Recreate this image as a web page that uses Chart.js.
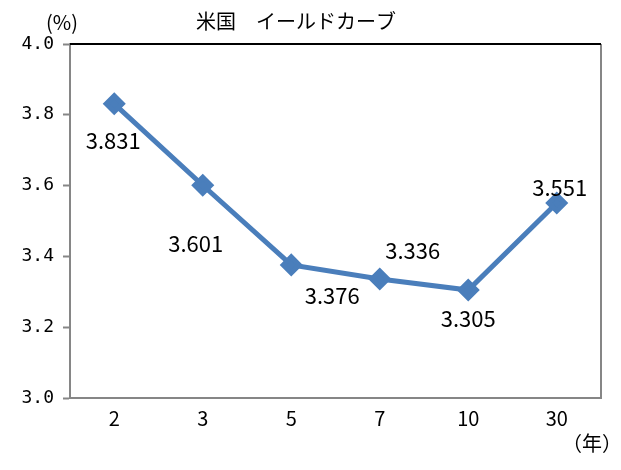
<!DOCTYPE html>
<html>
<head>
<meta charset="utf-8">
<script src="https://cdn.jsdelivr.net/npm/chart.js@4"></script>
<style>
  html, body { margin: 0; padding: 0; background: #fff; }
  #wrap { width: 621px; height: 470px; }
</style>
</head>
<body>
<div id="wrap"><canvas id="myChart" width="621" height="470"></canvas></div>
<script>
// 年限と利回り
labels = ["2", "3", "5", "7", "10", "30"];
yields = [3.831, 3.601, 3.376, 3.336, 3.305, 3.551];
yTicks = [3.0, 3.2, 3.4, 3.6, 3.8, 4.0];

var jpFont = '"Noto Sans CJK JP", sans-serif';

// 値ラベルの位置ずらし (点からの dx, dy)
var labelShift = [[-1, 37], [-7, 58], [41, 31], [33, -28], [0, 29], [3, -15]];

var extras = {
    id: 'extras',
    afterDatasetsDraw: function (chart) {
        var ctx = chart.ctx;
        var a = chart.chartArea;
        ctx.save();
        // 枠
        ctx.strokeStyle = '#868686';
        ctx.lineWidth = 2;
        ctx.beginPath();
        ctx.moveTo(a.right, a.top);
        ctx.lineTo(a.right, a.bottom);
        ctx.stroke();
        ctx.strokeStyle = '#000';
        ctx.beginPath();
        ctx.moveTo(a.left, a.top);
        ctx.lineTo(a.right, a.top);
        ctx.stroke();

        // 値ラベル
        var meta = chart.getDatasetMeta(0);
        ctx.fillStyle = '#000';
        ctx.font = '22px ' + jpFont;
        ctx.textAlign = 'center';
        ctx.textBaseline = 'middle';
        meta.data.forEach(function (pt, i) {
            var s = labelShift[i];
            ctx.fillText(yields[i].toFixed(3), pt.x + s[0], pt.y + s[1]);
        });

        // タイトル・単位
        ctx.font = '20px ' + jpFont;
        ctx.fillText('米国　イールドカーブ', 296, 21);
        ctx.fillText('(%)', 62, 22);
        ctx.fillText('（年）', 592, 443);
        ctx.restore();
    }
};

var ctx = document.getElementById("myChart").getContext('2d');
var myChart = new Chart(ctx, {
    type: 'line',
    data: {
        labels: labels,
        datasets: [{
            label: '米国債利回り',
            data: yields,
            borderColor: '#4a7ebb',
            backgroundColor: '#4a7ebb',
            borderWidth: 5,
            pointStyle: 'rectRot',
            pointRadius: 8,
            pointHoverRadius: 8,
            tension: 0
        }]
    },
    options: {
        responsive: false,
        animation: false,
        events: [],
        layout: { padding: { top: 44, right: 20, left: 0, bottom: 0 } },
        plugins: {
            legend: { display: false },
            title: { display: false },
            tooltip: { enabled: false }
        },
        scales: {
            x: {
                offset: true,
                grid: { display: false, drawTicks: false },
                border: { display: true, color: '#868686', width: 2 },
                ticks: {
                    color: '#000',
                    font: { family: 'Noto Sans CJK JP', size: 20 },
                    padding: 8
                },
                afterFit: function (s) { s.height = 72; }
            },
            y: {
                min: 3.0,
                max: 4.0,
                afterBuildTicks: function (s) {
                    s.ticks = yTicks.map(function (v) { return { value: v }; });
                },
                grid: {
                    drawOnChartArea: false,
                    drawTicks: true,
                    tickLength: 7,
                    tickColor: '#868686',
                    tickWidth: 2
                },
                border: { display: true, color: '#868686', width: 2 },
                ticks: {
                    color: '#000',
                    font: { family: 'DejaVu Sans Mono', size: 18 },
                    padding: 9,
                    callback: function (v) { return Number(v).toFixed(1); }
                },
                afterFit: function (s) { s.width = 70; }
            }
        }
    },
    plugins: [extras]
});
</script>
</body>
</html>
